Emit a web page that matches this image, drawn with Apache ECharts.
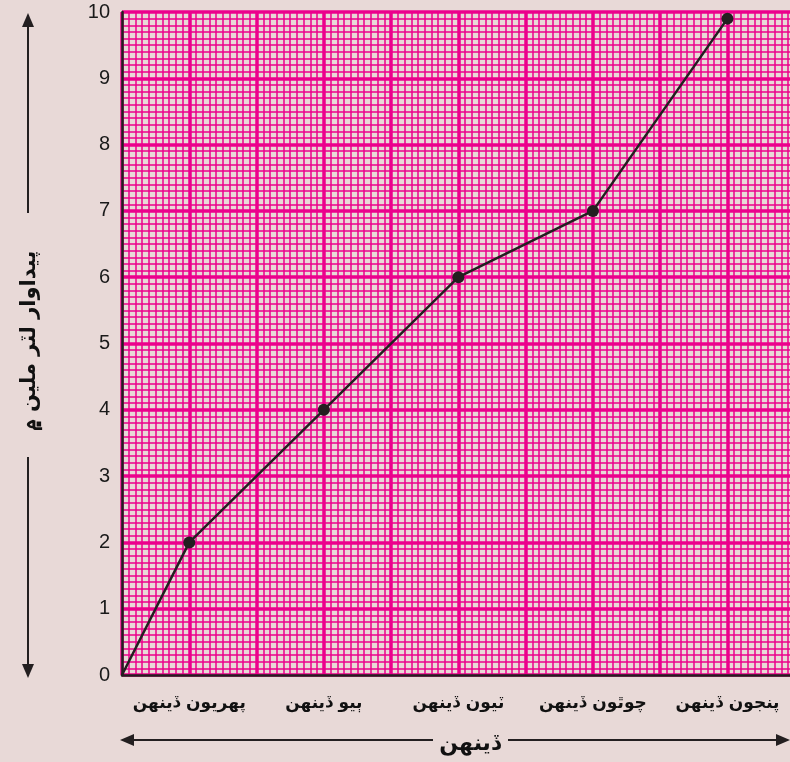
<!DOCTYPE html>
<html>
<head>
<meta charset="utf-8">
<script src="https://cdn.jsdelivr.net/npm/echarts@6/dist/echarts.min.js"></script>
<style>
  html, body { margin: 0; padding: 0; background: #e8d9d7; }
  #chart { width: 790px; height: 762px; }
</style>
</head>
<body>
<div id="chart"></div>
<script>
// ڏينهن - categories
var days = ['پهريون ڏينهن', 'ٻيو ڏينهن', 'ٽيون ڏينهن', 'چوٿون ڏينهن', 'پنجون ڏينهن']
// پيداوار (لٽر ملين ۾)
var output = [2, 4, 6, 7, 9.9]
var yTicks = [0, 1, 2, 3, 4, 5, 6, 7, 8, 9, 10]
var xTitle = 'ڏينهن'
var yTitle = 'پيداوار لٽر ملين ۾'

var pink = '#ec008c'
var ink = '#231f20'
var arabicFont = "'DejaVu Sans', sans-serif"

// each day sits in the middle of a 2 unit band, line starts at the origin
var points = [{ value: [0, 0], symbol: 'none' }]
days.forEach(function (d, i) {
  points.push([i * 2 + 1, output[i]])
})

var myChart = echarts.init(document.getElementById('chart'))
var option = {
  backgroundColor: '#e8d9d7',
  animation: false,
  grid: {
    left: 122,
    right: 0,
    top: 12,
    bottom: 87
  },
  xAxis: {
    type: 'value',
    min: 0,
    max: 9.93,   // paper runs off the right edge
    interval: 1,
    axisLine: { lineStyle: { color: ink, width: 2.5 } },
    axisTick: { show: false },
    minorTick: { show: false, splitNumber: 10 },
    axisLabel: {
      margin: 20,
      color: '#111',
      fontSize: 17,
      fontWeight: 'bold',
      fontFamily: arabicFont,
      showMaxLabel: false,
      formatter: function (v) {
        var i = (v - 1) / 2
        return days[i] || ''
      }
    },
    splitLine: { showMaxLine: false, lineStyle: { color: pink, width: 3.5 } },
    minorSplitLine: { show: true, lineStyle: { color: pink, width: 1.5 } }
  },
  yAxis: {
    type: 'value',
    min: yTicks[0],
    max: yTicks[yTicks.length - 1],
    interval: 1,
    axisLine: { show: true, lineStyle: { color: ink, width: 2.5 } },
    axisTick: { show: false },
    minorTick: { show: false, splitNumber: 10 },
    axisLabel: {
      margin: 12,
      color: '#1a1a1a',
      fontSize: 20,
      fontFamily: "'Liberation Sans', Arial, sans-serif"
    },
    splitLine: { lineStyle: { color: pink, width: 3.5 } },
    minorSplitLine: { show: true, lineStyle: { color: pink, width: 1.5 } }
  },
  series: [{
    type: 'line',
    data: points,
    symbol: 'circle',
    symbolSize: 12,
    itemStyle: { color: ink },
    lineStyle: { color: ink, width: 2.5 },
    z: 5
  }],
  graphic: [
    // y title with arrows
    {
      type: 'text',
      x: 30, y: 341,
      rotation: Math.PI / 2,
      style: {
        text: yTitle,
        font: "bold 21px " + arabicFont,
        fill: '#111',
        align: 'center',
        verticalAlign: 'middle'
      }
    },
    { type: 'line', shape: { x1: 28, y1: 213, x2: 28, y2: 24 }, style: { stroke: ink, lineWidth: 2 } },
    { type: 'polygon', shape: { points: [[28, 13], [22, 27], [34, 27]] }, style: { fill: ink } },
    { type: 'line', shape: { x1: 28, y1: 457, x2: 28, y2: 666 }, style: { stroke: ink, lineWidth: 2 } },
    { type: 'polygon', shape: { points: [[28, 678], [22, 664], [34, 664]] }, style: { fill: ink } },
    // x title with arrows
    {
      type: 'text',
      x: 470, y: 744,
      style: {
        text: xTitle,
        font: "bold 22px " + arabicFont,
        fill: '#111',
        align: 'center',
        verticalAlign: 'middle'
      }
    },
    { type: 'line', shape: { x1: 433, y1: 740, x2: 132, y2: 740 }, style: { stroke: ink, lineWidth: 2 } },
    { type: 'polygon', shape: { points: [[120, 740], [134, 734], [134, 746]] }, style: { fill: ink } },
    { type: 'line', shape: { x1: 508, y1: 740, x2: 778, y2: 740 }, style: { stroke: ink, lineWidth: 2 } },
    { type: 'polygon', shape: { points: [[790, 740], [776, 734], [776, 746]] }, style: { fill: ink } }
  ]
}
myChart.setOption(option)
</script>
</body>
</html>
